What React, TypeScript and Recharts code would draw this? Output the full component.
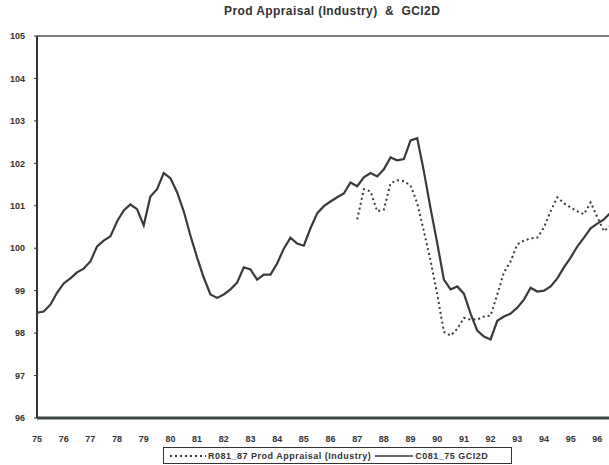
import {
  Line,
  LineChart,
  ReferenceLine,
  XAxis,
  YAxis,
} from 'recharts'

// quarterly readings, 1975 Q1 onwards
const GCI2D = [
  98.48, 98.51, 98.67, 98.95, 99.17, 99.29, 99.43, 99.52,
  99.69, 100.04, 100.18, 100.28, 100.63, 100.89, 101.03, 100.92,
  100.54, 101.22, 101.39, 101.77, 101.65, 101.32, 100.87, 100.3,
  99.78, 99.31, 98.91, 98.83, 98.91, 99.03, 99.19, 99.55,
  99.5, 99.26, 99.38, 99.38, 99.64, 99.99, 100.25, 100.11,
  100.06, 100.47, 100.82, 100.99, 101.1, 101.2, 101.29, 101.55,
  101.46, 101.67, 101.77, 101.69, 101.86, 102.14, 102.07, 102.1,
  102.54, 102.59, 101.81, 100.94, 100.12, 99.26, 99.03, 99.1,
  98.93, 98.46, 98.06, 97.92, 97.85, 98.29, 98.39, 98.46,
  98.6, 98.79, 99.07, 98.98, 99.0, 99.1, 99.29, 99.55,
  99.78, 100.04, 100.25, 100.47, 100.58, 100.68, 100.84, 100.96,
]

// prod appraisal starts in 1987 Q1
const APPRAISAL_START = 48
const APPRAISAL = [
  100.68, 101.39, 101.34, 100.87, 100.91, 101.53, 101.6, 101.58,
  101.48, 101.06, 100.4, 99.71, 98.91, 98.03, 97.94, 98.1,
  98.36, 98.32, 98.32, 98.39, 98.41, 98.91, 99.43, 99.69,
  100.09, 100.18, 100.23, 100.25, 100.49, 100.87, 101.2, 101.06,
  100.96, 100.87, 100.8, 101.08, 100.73, 100.4, 100.54, 100.63,
]

const YEAR_TICKS = [75, 76, 77, 78, 79, 80, 81, 82, 83, 84, 85, 86, 87, 88, 89, 90, 91, 92, 93, 94, 95, 96]
const VALUE_TICKS = [96, 97, 98, 99, 100, 101, 102, 103, 104, 105]

const data = GCI2D.map((g, i) => ({
  t: 75 + i * 0.25,
  gci: g,
  prod: i >= APPRAISAL_START ? APPRAISAL[i - APPRAISAL_START] : null,
}))

const FONT = '"Liberation Sans", Arial, sans-serif'
const INK = '#333'

export default function App() {
  return (
    <div style={{ position: 'absolute', left: 0, top: 0, width: 609, height: 465, overflow: 'hidden', background: '#fff', fontFamily: FONT }}>
      <div style={{ position: 'absolute', left: 224, top: 4, fontSize: 12, fontWeight: 700, color: INK, whiteSpace: 'nowrap', letterSpacing: 0.4 }}>
        Prod Appraisal (Industry)&nbsp; &amp;&nbsp; GCI2D
      </div>

      <LineChart width={640} height={465} data={data} margin={{ top: 36, right: 16, left: 0, bottom: 27 }}>
        <XAxis
          dataKey="t"
          type="number"
          domain={[75, 97]}
          ticks={YEAR_TICKS}
          tickFormatter={(v: number) => String(v)}
          tick={{ fontSize: 9, fontWeight: 700, fill: INK, fontFamily: FONT }}
          axisLine={{ stroke: '#3d4746', strokeWidth: 3 }}
          tickLine={false}
          tickMargin={12}
          height={20}
        />
        <YAxis
          domain={[96, 105]}
          ticks={VALUE_TICKS}
          tick={{ fontSize: 9, fontWeight: 700, fill: INK, fontFamily: FONT }}
          axisLine={{ stroke: INK, strokeWidth: 2 }}
          tickLine={{ stroke: INK }}
          tickSize={3}
          tickMargin={9}
          width={37}
        />
        <ReferenceLine y={105} stroke="#555" strokeWidth={1.5} />
        <Line
          type="linear"
          dataKey="gci"
          stroke="#3a3a3a"
          strokeWidth={2.2}
          dot={false}
          isAnimationActive={false}
        />
        <Line
          type="linear"
          dataKey="prod"
          stroke="#3a3a3a"
          strokeWidth={2}
          strokeDasharray="2 3"
          dot={false}
          connectNulls={false}
          isAnimationActive={false}
        />
      </LineChart>

      {/* legend box */}
      <div
        style={{
          position: 'absolute', left: 163, top: 447, width: 349, height: 17,
          border: `1px solid ${INK}`, boxSizing: 'border-box', background: '#fff',
          display: 'flex', alignItems: 'center', fontSize: 9, fontWeight: 700, color: INK,
          whiteSpace: 'nowrap', letterSpacing: 0.5,
        }}
      >
        <svg width={40} height={8} style={{ marginLeft: 4 }}>
          <line x1={2} y1={4} x2={38} y2={4} stroke="#3a3a3a" strokeWidth={2} strokeDasharray="2 3" />
        </svg>
        <span>R081_87 Prod Appraisal (Industry)</span>
        <svg width={42} height={8} style={{ marginLeft: 2 }}>
          <line x1={2} y1={4} x2={40} y2={4} stroke="#3a3a3a" strokeWidth={1.5} />
        </svg>
        <span>C081_75 GCI2D</span>
      </div>
    </div>
  )
}
